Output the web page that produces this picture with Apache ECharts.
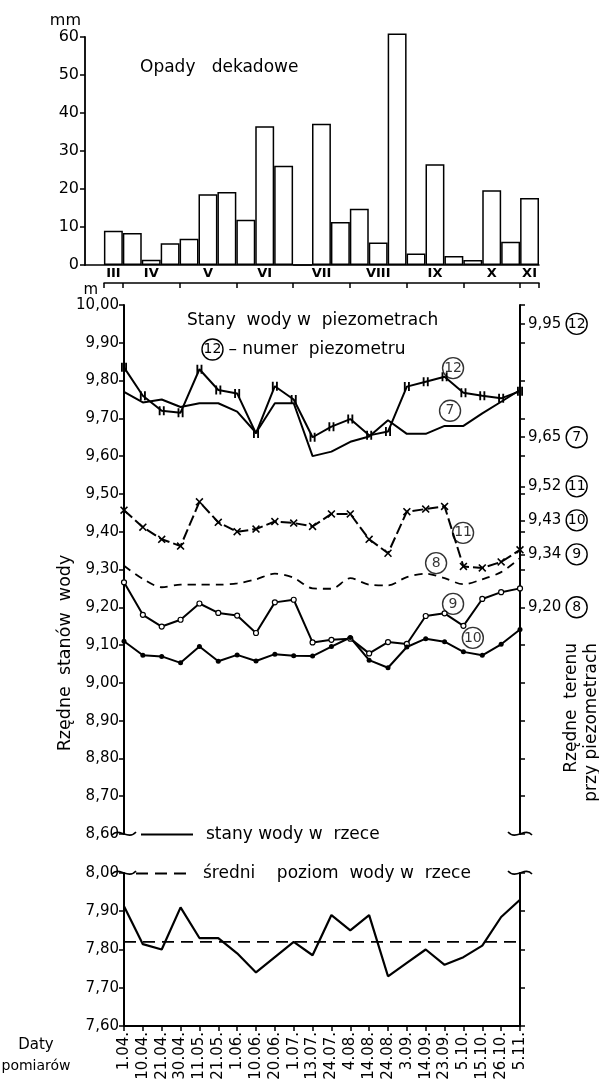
<!DOCTYPE html>
<html><head><meta charset="utf-8">
<script src="https://cdn.jsdelivr.net/npm/echarts@6/dist/echarts.min.js"></script>
<style>html,body{margin:0;padding:0;background:#fff}#c{width:599px;height:1083px}</style>
</head><body><div id="c"></div>
<script>
// ---------- DATA ----------
// decades (first band empty)
const decades = ['', 'III-3','IV-1','IV-2','IV-3','V-1','V-2','V-3','VI-1','VI-2','VI-3','VII-1','VII-2','VII-3','VIII-1','VIII-2','VIII-3','IX-1','IX-2','IX-3','X-1','X-2','X-3','XI-1'];
const rainfall = [null, 9.0, 8.4, 1.4, 5.7, 6.9, 18.6, 19.2, 11.9, 36.5, 26.1, 0, 37.2, 11.3, 14.8, 5.9, 60.9, 3.0, 26.5, 2.4, 1.3, 19.7, 6.1, 17.6];
const months = ['III','IV','V','VI','VII','VIII','IX','X','XI'];
const monthBounds = [0, 1, 4, 7, 10, 13, 16, 19, 22, 23];

const dates = ['1.04.','10.04.','21.04.','30.04.','11.05.','21.05.','1.06.','10.06.','20.06.','1.07.','13.07.','24.07.','4.08.','14.08.','24.08.','3.09.','14.09.','23.09.','5.10.','15.10.','26.10.','5.11.'];

const p12 = [9.835, 9.76, 9.72, 9.715, 9.83, 9.775, 9.766, 9.66, 9.785, 9.75, 9.65, 9.678, 9.698, 9.655, 9.665, 9.784, 9.797, 9.81, 9.768, 9.76, 9.753, 9.772];
const p7  = [9.77, 9.742, 9.75, 9.73, 9.74, 9.74, 9.718, 9.662, 9.74, 9.74, 9.60, 9.612, 9.638, 9.652, 9.695, 9.659, 9.659, 9.68, 9.68, 9.713, 9.744, 9.775];
const p11 = [9.457, 9.412, 9.38, 9.362, 9.479, 9.425, 9.40, 9.407, 9.427, 9.423, 9.414, 9.447, 9.447, 9.38, 9.343, 9.453, 9.46, 9.467, 9.308, 9.304, 9.32, 9.352];
const p8  = [9.31, 9.275, 9.253, 9.26, 9.26, 9.26, 9.263, 9.274, 9.289, 9.278, 9.25, 9.249, 9.277, 9.26, 9.258, 9.28, 9.289, 9.277, 9.261, 9.274, 9.293, 9.33];
const p9  = [9.266, 9.18, 9.149, 9.167, 9.21, 9.185, 9.178, 9.132, 9.213, 9.22, 9.107, 9.114, 9.117, 9.078, 9.108, 9.103, 9.177, 9.184, 9.151, 9.222, 9.24, 9.25];
const p10 = [9.11, 9.073, 9.07, 9.053, 9.096, 9.057, 9.074, 9.058, 9.076, 9.072, 9.071, 9.096, 9.12, 9.06, 9.04, 9.095, 9.117, 9.109, 9.082, 9.073, 9.102, 9.141];

const river = [7.913, 7.814, 7.80, 7.91, 7.83, 7.83, 7.79, 7.74, 7.78, 7.82, 7.785, 7.89, 7.85, 7.89, 7.73, 7.765, 7.80, 7.76, 7.78, 7.81, 7.885, 7.93];
const riverMean = 7.82;

const terrainValues = [9.95, 9.65, 9.52, 9.43, 9.34, 9.20];
const terrainIds = ['12', '7', '11', '10', '9', '8'];

const annotIds = ['12', '7', '11', '8', '9', '10'];
const annotX = [17.45, 17.29, 17.98, 16.55, 17.45, 18.5];
const annotY = [9.833, 9.72, 9.397, 9.317, 9.209, 9.119];

// ---------- CHART ----------
const FONT = 'DejaVu Sans';
const chart = echarts.init(document.getElementById('c'));
const fmt = v => v.toFixed(2).replace('.', ',');
const ticks01 = [];
for (let k = 0; k <= 14; k++) ticks01.push(+(8.6 + k * 0.1).toFixed(2));
const rightTicks = ticks01.concat(terrainValues);
const monthCenters = months.map((m, i) => (monthBounds[i] + monthBounds[i + 1]) / 2);
const circ = {borderColor:'#000', borderWidth:1.4, borderRadius:11, width:21, height:21, lineHeight:21, align:'center', fontSize:14, fontFamily:FONT, color:'#000'};
const SYM_12 = 'path://M0,0H2V10H0ZM4.5,0H6.5V10H4.5Z';
const SYM_X = 'path://M1.4,0L5,3.6L8.6,0L10,1.4L6.4,5L10,8.6L8.6,10L5,6.4L1.4,10L0,8.6L3.6,5L0,1.4Z';
const pair = arr => arr.map((v, i) => [i, v]);

const G0 = {left:85, top:37, width:454, height:228};
const G1 = {left:124, top:305, width:396, height:529};
const G2 = {left:124, top:873, width:396, height:153};
const G3 = {left:104, top:265, width:435, height:18};

const axisLine = w => ({show:true, lineStyle:{color:'#000', width:w}});
const lbl = (size, extra) => Object.assign({color:'#000', fontFamily:FONT, fontSize:size}, extra || {});
const tick = (len, extra) => Object.assign({show:true, length:len, lineStyle:{color:'#000', width:1.5}}, extra || {});

function squiggle(x, y, dir) {
  return {type:'bezierCurve', shape:{x1:x - 12 * dir, y1:y + 1, cpx1:x - 5 * dir, cpy1:y - 7, cpx2:x + 4 * dir, cpy2:y + 7, x2:x + 12 * dir, y2:y - 2},
    style:{fill:null, stroke:'#000', lineWidth:1.6}};
}

const option = {
  animation:false,
  backgroundColor:'#fff',
  textStyle:{fontFamily:FONT, color:'#000'},
  grid:[
    Object.assign({}, G0), Object.assign({}, G1), Object.assign({}, G2), Object.assign({}, G3)
  ],
  xAxis:[
    {gridIndex:0, type:'category', data:decades, boundaryGap:true, axisLine:axisLine(1.5), axisTick:{show:false}, axisLabel:{show:false}},
    {gridIndex:1, type:'value', min:0, max:dates.length - 1, show:false},
    {gridIndex:2, type:'category', data:dates, boundaryGap:false, axisLine:axisLine(2),
      axisTick:tick(5), axisLabel:lbl(15, {rotate:90, margin:6, interval:0})},
    {gridIndex:3, type:'value', min:0, max:decades.length - 1, axisLine:axisLine(1.5), splitLine:{show:false},
      axisTick:tick(5, {customValues:monthBounds}),
      axisLabel:lbl(13, {fontWeight:'bold', inside:true, margin:3, customValues:monthCenters,
        formatter: v => { const i = monthCenters.findIndex(c => Math.abs(c - v) < 1e-6); return i >= 0 ? months[i] : ''; }})}
  ],
  yAxis:[
    {gridIndex:0, type:'value', min:0, max:60, interval:10, axisLine:axisLine(1.8), splitLine:{show:false},
      axisTick:tick(5), axisLabel:lbl(16, {margin:6}),
      name:'mm', nameLocation:'end', nameGap:8, nameTextStyle:lbl(16, {align:'right', padding:[0, 4, 0, 0]})},
    {gridIndex:1, type:'value', position:'left', min:8.6, max:10, interval:0.1, axisLine:axisLine(2), splitLine:{show:false},
      axisTick:tick(5), axisLabel:lbl(15, {margin:5, formatter:fmt}),
      name:'m', nameLocation:'end', nameGap:6, nameTextStyle:lbl(15, {align:'right', padding:[0, 26, 0, 0]})},
    {gridIndex:1, type:'value', position:'right', min:8.6, max:10, axisLine:axisLine(2), splitLine:{show:false},
      axisTick:tick(5, {customValues:rightTicks}),
      axisLabel:lbl(15, {margin:8, customValues:terrainValues,
        formatter: v => { const i = terrainValues.findIndex(t => Math.abs(t - v) < 1e-6); return fmt(v) + ' {c|' + terrainIds[i] + '}'; },
        rich:{c:circ}})},
    {gridIndex:2, type:'value', position:'left', min:7.6, max:8.0, interval:0.1, axisLine:axisLine(2), splitLine:{show:false},
      axisTick:tick(5), axisLabel:lbl(15, {margin:5, formatter:fmt})},
    {gridIndex:2, type:'value', position:'right', min:7.6, max:8.0, interval:0.1, axisLine:axisLine(2), splitLine:{show:false},
      axisTick:tick(5), axisLabel:{show:false}},
    {gridIndex:3, type:'value', show:false}
  ],
  legend:[
    {data:['stany wody w rzece'], left:140, top:826, itemWidth:52, itemHeight:14, selectedMode:false, padding:0,
      itemStyle:{opacity:0}, formatter:'stany wody w  rzece',
      textStyle:lbl(17, {padding:[0,0,0,8]})},
    {data:['średni poziom wody w rzece'], left:135, top:865, itemWidth:56, itemHeight:14, selectedMode:false, padding:0,
      itemStyle:{opacity:0}, formatter:'średni    poziom  wody w  rzece',
      textStyle:lbl(17, {padding:[0,0,0,6]})}
  ],
  series:[
    {name:'Opady', type:'bar', xAxisIndex:0, yAxisIndex:0, data:rainfall, barCategoryGap:'0%', clip:false,
      itemStyle:{color:'#fff', borderColor:'#000', borderWidth:1.5}},
    {name:'12', type:'line', xAxisIndex:1, yAxisIndex:1, data:pair(p12), symbol:SYM_12, symbolSize:[6, 9], showAllSymbol:true,
      itemStyle:{color:'#000'}, lineStyle:{color:'#000', width:2}},
    {name:'7', type:'line', xAxisIndex:1, yAxisIndex:1, data:pair(p7), symbol:'none', lineStyle:{color:'#000', width:2}},
    {name:'11', type:'line', xAxisIndex:1, yAxisIndex:1, data:pair(p11), symbol:SYM_X, symbolSize:8, showAllSymbol:true,
      itemStyle:{color:'#000'}, lineStyle:{color:'#000', width:2, type:[11, 4]}},
    {name:'8', type:'line', xAxisIndex:1, yAxisIndex:1, data:pair(p8), symbol:'none', smooth:0.3,
      lineStyle:{color:'#000', width:1.8, type:[8, 6]}},
    {name:'9', type:'line', xAxisIndex:1, yAxisIndex:1, data:pair(p9), symbol:'circle', symbolSize:5, showAllSymbol:true,
      itemStyle:{color:'#fff', borderColor:'#000', borderWidth:1.2}, lineStyle:{color:'#000', width:2}},
    {name:'10', type:'line', xAxisIndex:1, yAxisIndex:1, data:pair(p10), symbol:'circle', symbolSize:5, showAllSymbol:true,
      itemStyle:{color:'#000'}, lineStyle:{color:'#000', width:2}},
    {name:'numery', type:'scatter', xAxisIndex:1, yAxisIndex:1, symbolSize:1, itemStyle:{color:'rgba(0,0,0,0)'},
      data:annotIds.map((id, i) => [annotX[i], annotY[i], id]),
      label:{show:true, position:'inside', formatter:p => '{c|' + p.value[2] + '}', rich:{c:circ}}},
    {name:'stany wody w rzece', type:'line', xAxisIndex:2, yAxisIndex:3, data:river, symbol:'none',
      lineStyle:{color:'#000', width:2.2}, itemStyle:{color:'#000'}},
    {name:'średni poziom wody w rzece', type:'line', xAxisIndex:2, yAxisIndex:3, data:dates.map(() => riverMean), symbol:'none',
      lineStyle:{color:'#000', width:1.8, type:[12, 7]}, itemStyle:{color:'#000'}}
  ],
  graphic:[
    {type:'text', x:140, y:59, style:{text:'Opady   dekadowe', fontSize:17, fontFamily:FONT, fill:'#000'}},
    {type:'text', x:187, y:312, style:{text:'Stany  wody w  piezometrach', fontSize:17, fontFamily:FONT, fill:'#000'}},
    {type:'text', x:202, y:339, style:{text:'{c|12} – numer  piezometru', fontSize:17, fontFamily:FONT, fill:'#000', rich:{c:circ}}},
    {type:'text', x:65, y:653, rotation:Math.PI / 2, style:{text:'Rzędne  stanów  wody', fontSize:17.5, fontFamily:FONT, fill:'#000', align:'center', verticalAlign:'middle'}},
    {type:'text', x:572, y:643, rotation:Math.PI / 2, style:{text:'Rzędne  terenu', fontSize:17, fontFamily:FONT, fill:'#000', align:'right', verticalAlign:'middle'}},
    {type:'text', x:592, y:643, rotation:Math.PI / 2, style:{text:'przy piezometrach', fontSize:17, fontFamily:FONT, fill:'#000', align:'right', verticalAlign:'middle'}},
    {type:'text', x:36, y:1045, style:{text:'Daty', fontSize:15, fontFamily:FONT, fill:'#000', align:'center', verticalAlign:'middle'}},
    {type:'text', x:36, y:1066, style:{text:'pomiarów', fontSize:14, fontFamily:FONT, fill:'#000', align:'center', verticalAlign:'middle'}},
    squiggle(G1.left, G1.top + G1.height, 1),
    squiggle(G1.left + G1.width, G1.top + G1.height, -1),
    squiggle(G2.left, G2.top, 1),
    squiggle(G2.left + G2.width, G2.top, -1)
  ]
};
chart.setOption(option);
</script>
</body></html>
